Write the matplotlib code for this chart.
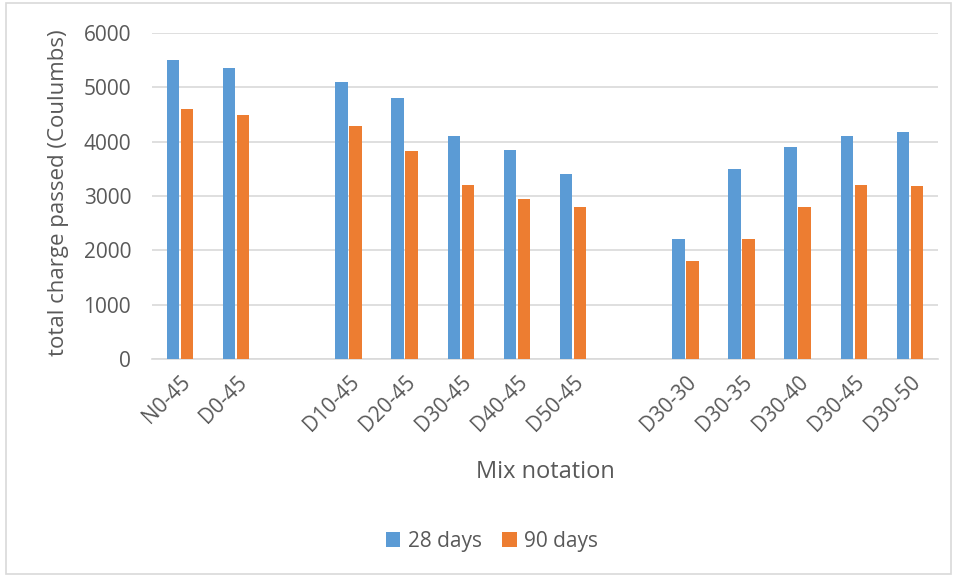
import numpy as np
import matplotlib.pyplot as plt
from matplotlib.patches import Rectangle

plt.rcParams["font.family"] = ["Open Sans", "DejaVu Sans"]

# blank strings leave an empty slot between the mix groups
mixes = ["N0-45", "D0-45", "", "D10-45", "D20-45", "D30-45", "D40-45", "D50-45",
         "", "D30-30", "D30-35", "D30-40", "D30-45", "D30-50"]
days28 = [5500, 5350, np.nan, 5100, 4800, 4100, 3850, 3400,
          np.nan, 2200, 3500, 3900, 4100, 4180]
days90 = [4600, 4500, np.nan, 4280, 3820, 3200, 2950, 2800,
          np.nan, 1800, 2200, 2800, 3200, 3180]

blue = "#5B9BD5"
orange = "#ED7D31"
txt = "#595959"
grid = "#D9D9D9"

fig = plt.figure(figsize=(9.57, 5.77), dpi=100)
fig.patches.append(Rectangle((0.006, 0.006), 0.988, 0.988, transform=fig.transFigure,
                             fill=False, edgecolor=grid, linewidth=1.2))
ax = fig.add_axes([152 / 957, 1 - 359 / 577, 786 / 957, 326 / 577])

x = np.arange(len(mixes))
w = 0.22
ax.bar(x - w / 2 - 0.015, days28, w, color=blue, label="28 days", zorder=3)
ax.bar(x + w / 2 + 0.015, days90, w, color=orange, label="90 days", zorder=3)

ax.set_xlim(-0.5, len(mixes) - 0.5)
ax.set_ylim(0, 6000)
ax.set_yticks(range(0, 6001, 1000))
ax.yaxis.grid(True, color=grid, linewidth=1.2, zorder=0)
for s in ["top", "right", "left"]:
    ax.spines[s].set_visible(False)
ax.spines["bottom"].set_color(grid)
ax.spines["bottom"].set_linewidth(1.2)
ax.tick_params(length=0, labelsize=15, labelcolor=txt)
ax.tick_params(axis="y", pad=15)
ax.set_xticks(x)
ax.set_xticklabels(mixes, rotation=45, ha="right", rotation_mode="anchor")
ax.tick_params(axis="x", pad=9)

ax.set_ylabel("total charge passed (Coulumbs)", fontsize=16, color=txt)
ax.yaxis.set_label_coords(-0.106, 0.51)
ax.set_xlabel("Mix notation", fontsize=17, color=txt)
ax.xaxis.set_label_coords(0.5, -0.31)

fig.legend(loc="center", bbox_to_anchor=(492 / 957, 1 - 541 / 577), ncol=2, frameon=False,
           fontsize=15, labelcolor=txt, handlelength=0.7, handleheight=0.7,
           handletextpad=0.35, columnspacing=1.0)

fig.savefig("out.png", dpi=100)
